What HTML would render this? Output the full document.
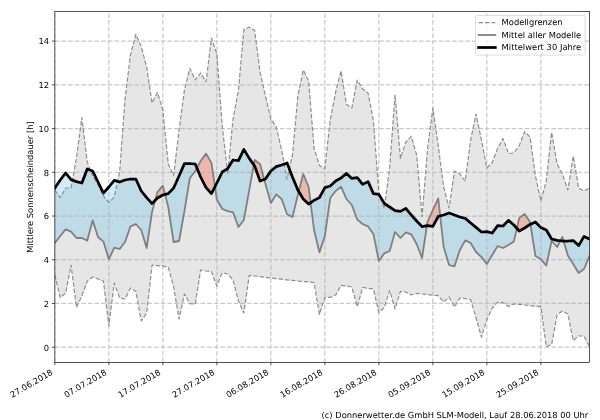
<!DOCTYPE html>
<html lang="de"><head><meta charset="utf-8"><title>Mittlere Sonnenscheindauer</title>
<style>html,body{margin:0;padding:0;background:#fff;}svg{display:block;will-change:transform;}text{font-family:"DejaVu Sans","Liberation Sans",sans-serif;font-size:8.33px;fill:#000;text-rendering:geometricPrecision;}</style>
</head><body>
<svg width="600" height="420" viewBox="0 0 600 420">
<rect x="0" y="0" width="600" height="420" fill="#fff"/>
<defs><clipPath id="ax"><rect x="54.85" y="11.6" width="534.6" height="350.75"/></clipPath></defs>
<g clip-path="url(#ax)">
<polygon points="54.85,190 60.25,197.6 65.65,188 71.05,188 76.45,158 81.85,117.6 87.25,162 92.65,176 98.05,185 103.45,196 108.85,202.4 114.25,197 119.65,172 125.05,99 130.45,55 135.85,34.2 141.25,46.5 146.65,67 152.05,103 157.45,92.4 162.85,110 168.25,164 173.65,175.6 179.05,130 184.45,90 189.85,68.4 195.25,80 200.65,73 206.05,82 211.45,38 216.85,54 222.25,126 227.65,173.6 233.05,119 238.45,90 243.85,29.6 249.25,27 254.65,30.6 260.05,72 265.45,96 270.85,119 276.25,127 281.65,150 287.05,179 292.45,155.5 297.85,96 303.25,70 308.65,81 314.05,148 319.45,165.5 324.85,168.5 330.25,120 335.65,92 341.05,71 346.45,104.4 351.85,108 357.25,80 362.65,89 368.05,93 373.45,121 378.85,193 384.25,208.5 389.65,168 395.05,95 400.45,158.4 405.85,142 411.25,136.4 416.65,155 422.05,216.5 427.45,150 432.85,108 438.25,146 443.65,187 449.05,208 454.45,171 459.85,174 465.25,181 470.65,140 476.05,114 481.45,140 486.85,168 492.25,162.5 497.65,148.5 503.05,138.6 508.45,153.6 513.85,153 519.25,145.6 524.65,131.6 530.05,137 535.45,176 540.85,201 546.25,181 551.65,132.4 557.05,164 562.45,174 567.85,190 573.25,156 578.65,188 584.05,191 589.45,188 589.45,347 584.05,336 578.65,336 573.25,340.6 567.85,314 562.45,311 557.05,315 551.65,344.6 546.25,346.6 540.85,306.6 535.45,306.2 530.05,305.6 524.65,305 519.25,304.4 513.85,304 508.45,306.6 503.05,302.6 497.65,302.2 492.25,308 486.85,319.5 481.45,337.2 476.05,318 470.65,299.6 465.25,298.6 459.85,298 454.45,307 449.05,297 443.65,302 438.25,295.6 432.85,295.2 427.45,294.6 422.05,294 416.65,293.4 411.25,295 405.85,292 400.45,291.4 395.05,309 389.65,290.5 384.25,307.5 378.85,312.6 373.45,289 368.05,288.4 362.65,287.4 357.25,306.6 351.85,287 346.45,286 341.05,285.4 335.65,295 330.25,297.4 324.85,297.4 319.45,314.4 314.05,282.6 308.65,282 303.25,281.5 297.85,281 292.45,280.4 287.05,279.8 281.65,279.2 276.25,278.6 270.85,278 265.45,277.3 260.05,276.6 254.65,276 249.25,275.4 243.85,313 238.45,301 233.05,280 227.65,274 222.25,272.6 216.85,286 211.45,271.6 206.05,271 200.65,270 195.25,304 189.85,303.6 184.45,294 179.05,319 173.65,287 168.25,267 162.85,266.2 157.45,265.6 152.05,265 146.65,313 141.25,321 135.85,291.4 130.45,288 125.05,299 119.65,298 114.25,283 108.85,326 103.45,281 98.05,279 92.65,277 87.25,281 81.85,296 76.45,307.4 71.05,265 65.65,293 60.25,297.6 54.85,275" fill="rgb(128,128,128)" fill-opacity="0.2" stroke="none"/>
<path d="M54.85 188 L60.25 180 L65.65 173 L71.05 179.6 L76.45 181.6 L81.85 183 L87.25 169 L92.65 171 L98.05 182 L103.45 193.1 L108.85 187 L114.25 180.4 L119.65 182 L125.05 180 L130.45 179 L135.85 179 L141.25 191 L146.65 197.6 L152.05 203.6 L155.2 200.33 L155.2 200.33 L152.05 212 L146.65 248 L141.25 230 L135.85 224 L130.45 226.4 L125.05 242 L119.65 249 L114.25 247.6 L108.85 259.4 L103.45 241.6 L98.05 237 L92.65 220.4 L87.25 240.6 L81.85 238 L76.45 238 L71.05 231.6 L65.65 229.4 L60.25 236 L54.85 243Z M165.08 194.42 L168.25 193.6 L173.65 188 L179.05 176 L184.45 163.6 L189.85 163.6 L195.25 164 L196.89 167.96 L196.89 167.96 L195.25 171 L189.85 178 L184.45 211 L179.05 241 L173.65 242 L168.25 207 L165.08 194.42Z M214.96 186.71 L216.85 183 L222.25 172 L227.65 168.6 L233.05 160 L238.45 160.6 L243.85 149.4 L249.25 158.4 L253.79 164.79 L253.79 164.79 L249.25 190 L243.85 220 L238.45 227 L233.05 212.4 L227.65 211.2 L222.25 209 L216.85 199.5 L214.96 186.71Z M264.22 179.45 L265.45 179 L270.85 171 L276.25 166.6 L281.65 165 L287.05 163 L292.45 177 L297.85 190 L298.75 191.5 L298.75 191.5 L297.85 195 L292.45 217 L287.05 214.2 L281.65 199 L276.25 194.4 L270.85 203 L265.45 184 L264.22 179.45Z M310.62 202.69 L314.05 200.4 L319.45 197.6 L324.85 187.6 L330.25 186 L335.65 181 L341.05 178 L346.45 173.4 L351.85 178.4 L357.25 177.6 L362.65 184.4 L368.05 181.6 L373.45 193.6 L378.85 194.4 L384.25 203.3 L389.65 207 L395.05 210.6 L400.45 211.4 L405.85 208.4 L411.25 215 L416.65 221 L422.05 226.6 L426.89 225.7 L426.89 225.7 L422.05 258 L416.65 244 L411.25 234.4 L405.85 232.4 L400.45 238 L395.05 232 L389.65 251 L384.25 253.3 L378.85 261 L373.45 234 L368.05 226.4 L362.65 224 L357.25 219.6 L351.85 205 L346.45 199 L341.05 186.6 L335.65 191 L330.25 198 L324.85 236 L319.45 252.4 L314.05 230 L310.62 202.69Z M440.19 215.9 L443.65 215 L449.05 213 L454.45 215 L459.85 217 L465.25 218.4 L470.65 223 L476.05 227.4 L481.45 232 L486.85 231.6 L492.25 233 L497.65 225.6 L503.05 226 L508.45 220.4 L513.85 225 L516.88 228.36 L516.88 228.36 L513.85 241.6 L508.45 245 L503.05 248 L497.65 246 L492.25 255 L486.85 264 L481.45 257 L476.05 252 L470.65 243 L465.25 240.4 L459.85 250 L454.45 266.4 L449.05 265 L443.65 247 L440.19 215.9Z M530.41 224.24 L535.45 222 L540.85 227.6 L546.25 230 L551.65 239 L557.05 240.4 L560.41 240.77 L560.41 240.77 L557.05 247 L551.65 241 L546.25 265.6 L540.85 259 L535.45 256 L530.41 224.24Z M563.62 241 L567.85 241 L573.25 240.6 L578.65 245.6 L584.05 236.4 L589.45 239 L589.45 256 L584.05 269 L578.65 273 L573.25 264 L567.85 255.5 L563.62 241Z" fill="rgb(105,195,238)" fill-opacity="0.3" stroke="none"/>
<path d="M155.2 200.33 L157.45 198 L162.85 195 L165.08 194.42 L165.08 194.42 L162.85 185.6 L157.45 192 L155.2 200.33Z M196.89 167.96 L200.65 177 L206.05 187.6 L211.45 193.6 L214.96 186.71 L214.96 186.71 L211.45 163 L206.05 153.6 L200.65 161 L196.89 167.96Z M253.79 164.79 L254.65 166 L260.05 181 L264.22 179.45 L264.22 179.45 L260.05 164 L254.65 160 L253.79 164.79Z M298.75 191.5 L303.25 199 L308.65 204 L310.62 202.69 L310.62 202.69 L308.65 187 L303.25 174 L298.75 191.5Z M426.89 225.7 L427.45 225.6 L432.85 226.4 L438.25 216.4 L440.19 215.9 L440.19 215.9 L438.25 198.5 L432.85 210 L427.45 222 L426.89 225.7Z M516.88 228.36 L519.25 231 L524.65 228 L530.05 224.4 L530.41 224.24 L530.41 224.24 L530.05 222 L524.65 214 L519.25 218 L516.88 228.36Z M560.41 240.77 L562.45 241 L563.62 241 L563.62 241 L562.45 237 L560.41 240.77Z" fill="rgb(252,79,39)" fill-opacity="0.3" stroke="none"/>
<path d="M54.85 362.35 V11.6 M108.85 362.35 V11.6 M162.85 362.35 V11.6 M216.85 362.35 V11.6 M270.85 362.35 V11.6 M324.85 362.35 V11.6 M378.85 362.35 V11.6 M432.85 362.35 V11.6 M486.85 362.35 V11.6 M540.85 362.35 V11.6 M54.85 347.2 H589.45 M54.85 303.47 H589.45 M54.85 259.74 H589.45 M54.85 216.02 H589.45 M54.85 172.29 H589.45 M54.85 128.56 H589.45 M54.85 84.83 H589.45 M54.85 41.1 H589.45" fill="none" stroke="#b0b0b0" stroke-opacity="0.68" stroke-width="1.25" stroke-dasharray="4.62 2"/>
<polyline points="54.85,190 60.25,197.6 65.65,188 71.05,188 76.45,158 81.85,117.6 87.25,162 92.65,176 98.05,185 103.45,196 108.85,202.4 114.25,197 119.65,172 125.05,99 130.45,55 135.85,34.2 141.25,46.5 146.65,67 152.05,103 157.45,92.4 162.85,110 168.25,164 173.65,175.6 179.05,130 184.45,90 189.85,68.4 195.25,80 200.65,73 206.05,82 211.45,38 216.85,54 222.25,126 227.65,173.6 233.05,119 238.45,90 243.85,29.6 249.25,27 254.65,30.6 260.05,72 265.45,96 270.85,119 276.25,127 281.65,150 287.05,179 292.45,155.5 297.85,96 303.25,70 308.65,81 314.05,148 319.45,165.5 324.85,168.5 330.25,120 335.65,92 341.05,71 346.45,104.4 351.85,108 357.25,80 362.65,89 368.05,93 373.45,121 378.85,193 384.25,208.5 389.65,168 395.05,95 400.45,158.4 405.85,142 411.25,136.4 416.65,155 422.05,216.5 427.45,150 432.85,108 438.25,146 443.65,187 449.05,208 454.45,171 459.85,174 465.25,181 470.65,140 476.05,114 481.45,140 486.85,168 492.25,162.5 497.65,148.5 503.05,138.6 508.45,153.6 513.85,153 519.25,145.6 524.65,131.6 530.05,137 535.45,176 540.85,201 546.25,181 551.65,132.4 557.05,164 562.45,174 567.85,190 573.25,156 578.65,188 584.05,191 589.45,188" fill="none" stroke="#8e8e8e" stroke-width="1.2" stroke-dasharray="4.44 1.92" stroke-linejoin="round"/>
<polyline points="54.85,275 60.25,297.6 65.65,293 71.05,265 76.45,307.4 81.85,296 87.25,281 92.65,277 98.05,279 103.45,281 108.85,326 114.25,283 119.65,298 125.05,299 130.45,288 135.85,291.4 141.25,321 146.65,313 152.05,265 157.45,265.6 162.85,266.2 168.25,267 173.65,287 179.05,319 184.45,294 189.85,303.6 195.25,304 200.65,270 206.05,271 211.45,271.6 216.85,286 222.25,272.6 227.65,274 233.05,280 238.45,301 243.85,313 249.25,275.4 254.65,276 260.05,276.6 265.45,277.3 270.85,278 276.25,278.6 281.65,279.2 287.05,279.8 292.45,280.4 297.85,281 303.25,281.5 308.65,282 314.05,282.6 319.45,314.4 324.85,297.4 330.25,297.4 335.65,295 341.05,285.4 346.45,286 351.85,287 357.25,306.6 362.65,287.4 368.05,288.4 373.45,289 378.85,312.6 384.25,307.5 389.65,290.5 395.05,309 400.45,291.4 405.85,292 411.25,295 416.65,293.4 422.05,294 427.45,294.6 432.85,295.2 438.25,295.6 443.65,302 449.05,297 454.45,307 459.85,298 465.25,298.6 470.65,299.6 476.05,318 481.45,337.2 486.85,319.5 492.25,308 497.65,302.2 503.05,302.6 508.45,306.6 513.85,304 519.25,304.4 524.65,305 530.05,305.6 535.45,306.2 540.85,306.6 546.25,346.6 551.65,344.6 557.05,315 562.45,311 567.85,314 573.25,340.6 578.65,336 584.05,336 589.45,347" fill="none" stroke="#8e8e8e" stroke-width="1.2" stroke-dasharray="4.44 1.92" stroke-linejoin="round"/>
<polyline points="54.85,243 60.25,236 65.65,229.4 71.05,231.6 76.45,238 81.85,238 87.25,240.6 92.65,220.4 98.05,237 103.45,241.6 108.85,259.4 114.25,247.6 119.65,249 125.05,242 130.45,226.4 135.85,224 141.25,230 146.65,248 152.05,212 157.45,192 162.85,185.6 168.25,207 173.65,242 179.05,241 184.45,211 189.85,178 195.25,171 200.65,161 206.05,153.6 211.45,163 216.85,199.5 222.25,209 227.65,211.2 233.05,212.4 238.45,227 243.85,220 249.25,190 254.65,160 260.05,164 265.45,184 270.85,203 276.25,194.4 281.65,199 287.05,214.2 292.45,217 297.85,195 303.25,174 308.65,187 314.05,230 319.45,252.4 324.85,236 330.25,198 335.65,191 341.05,186.6 346.45,199 351.85,205 357.25,219.6 362.65,224 368.05,226.4 373.45,234 378.85,261 384.25,253.3 389.65,251 395.05,232 400.45,238 405.85,232.4 411.25,234.4 416.65,244 422.05,258 427.45,222 432.85,210 438.25,198.5 443.65,247 449.05,265 454.45,266.4 459.85,250 465.25,240.4 470.65,243 476.05,252 481.45,257 486.85,264 492.25,255 497.65,246 503.05,248 508.45,245 513.85,241.6 519.25,218 524.65,214 530.05,222 535.45,256 540.85,259 546.25,265.6 551.65,241 557.05,247 562.45,237 567.85,255.5 573.25,264 578.65,273 584.05,269 589.45,256" fill="none" stroke="#808080" stroke-width="1.8" stroke-linejoin="round" stroke-linecap="square"/>
<polyline points="54.85,188 60.25,180 65.65,173 71.05,179.6 76.45,181.6 81.85,183 87.25,169 92.65,171 98.05,182 103.45,193.1 108.85,187 114.25,180.4 119.65,182 125.05,180 130.45,179 135.85,179 141.25,191 146.65,197.6 152.05,203.6 157.45,198 162.85,195 168.25,193.6 173.65,188 179.05,176 184.45,163.6 189.85,163.6 195.25,164 200.65,177 206.05,187.6 211.45,193.6 216.85,183 222.25,172 227.65,168.6 233.05,160 238.45,160.6 243.85,149.4 249.25,158.4 254.65,166 260.05,181 265.45,179 270.85,171 276.25,166.6 281.65,165 287.05,163 292.45,177 297.85,190 303.25,199 308.65,204 314.05,200.4 319.45,197.6 324.85,187.6 330.25,186 335.65,181 341.05,178 346.45,173.4 351.85,178.4 357.25,177.6 362.65,184.4 368.05,181.6 373.45,193.6 378.85,194.4 384.25,203.3 389.65,207 395.05,210.6 400.45,211.4 405.85,208.4 411.25,215 416.65,221 422.05,226.6 427.45,225.6 432.85,226.4 438.25,216.4 443.65,215 449.05,213 454.45,215 459.85,217 465.25,218.4 470.65,223 476.05,227.4 481.45,232 486.85,231.6 492.25,233 497.65,225.6 503.05,226 508.45,220.4 513.85,225 519.25,231 524.65,228 530.05,224.4 535.45,222 540.85,227.6 546.25,230 551.65,239 557.05,240.4 562.45,241 567.85,241 573.25,240.6 578.65,245.6 584.05,236.4 589.45,239" fill="none" stroke="#000" stroke-width="2.75" stroke-linejoin="round" stroke-linecap="square"/>
</g>
<rect x="54.85" y="11.6" width="534.6" height="350.75" fill="none" stroke="#000" stroke-width="0.67"/>
<path d="M54.85 362.35 v2.92 M108.85 362.35 v2.92 M162.85 362.35 v2.92 M216.85 362.35 v2.92 M270.85 362.35 v2.92 M324.85 362.35 v2.92 M378.85 362.35 v2.92 M432.85 362.35 v2.92 M486.85 362.35 v2.92 M540.85 362.35 v2.92 M54.85 347.2 h-2.92 M54.85 303.47 h-2.92 M54.85 259.74 h-2.92 M54.85 216.02 h-2.92 M54.85 172.29 h-2.92 M54.85 128.56 h-2.92 M54.85 84.83 h-2.92 M54.85 41.1 h-2.92" fill="none" stroke="#000" stroke-width="0.67"/>
<text x="49" y="350.5" text-anchor="end">0</text>
<text x="49" y="306.77" text-anchor="end">2</text>
<text x="49" y="263.04" text-anchor="end">4</text>
<text x="49" y="219.32" text-anchor="end">6</text>
<text x="49" y="175.59" text-anchor="end">8</text>
<text x="49" y="131.86" text-anchor="end">10</text>
<text x="49" y="88.13" text-anchor="end">12</text>
<text x="49" y="44.4" text-anchor="end">14</text>
<text transform="translate(53.45 374.05) rotate(-30)" text-anchor="end">27.06.2018</text>
<text transform="translate(107.45 374.05) rotate(-30)" text-anchor="end">07.07.2018</text>
<text transform="translate(161.45 374.05) rotate(-30)" text-anchor="end">17.07.2018</text>
<text transform="translate(215.45 374.05) rotate(-30)" text-anchor="end">27.07.2018</text>
<text transform="translate(269.45 374.05) rotate(-30)" text-anchor="end">06.08.2018</text>
<text transform="translate(323.45 374.05) rotate(-30)" text-anchor="end">16.08.2018</text>
<text transform="translate(377.45 374.05) rotate(-30)" text-anchor="end">26.08.2018</text>
<text transform="translate(431.45 374.05) rotate(-30)" text-anchor="end">05.09.2018</text>
<text transform="translate(485.45 374.05) rotate(-30)" text-anchor="end">15.09.2018</text>
<text transform="translate(539.45 374.05) rotate(-30)" text-anchor="end">25.09.2018</text>
<text transform="translate(32.5 186.98) rotate(-90)" text-anchor="middle">Mittlere Sonnenscheindauer [h]</text>
<text x="588.3" y="417.8" text-anchor="end">(c) Donnerwetter.de GmbH SLM-Modell, Lauf 28.06.2018 00 Uhr</text>
<rect x="475.5" y="15.4" width="109.7" height="39.7" rx="1.7" ry="1.7" fill="#fff" fill-opacity="0.8" stroke="#ccc" stroke-opacity="0.8" stroke-width="0.83"/>
<path d="M478.6 22.6 H495.3" fill="none" stroke="#8e8e8e" stroke-width="1.2" stroke-dasharray="4.44 1.92"/>
<path d="M478.6 35.0 H495.3" fill="none" stroke="#808080" stroke-width="1.8" stroke-linecap="square"/>
<path d="M478.6 47.5 H495.3" fill="none" stroke="#000" stroke-width="2.75" stroke-linecap="square"/>
<text x="501.6" y="25.0" textLength="61.0" lengthAdjust="spacing">Modellgrenzen</text>
<text x="501.6" y="37.5" textLength="79.6" lengthAdjust="spacing">Mittel aller Modelle</text>
<text x="501.6" y="49.95" textLength="79.6" lengthAdjust="spacing">Mittelwert 30 Jahre</text>
</svg></body></html>
